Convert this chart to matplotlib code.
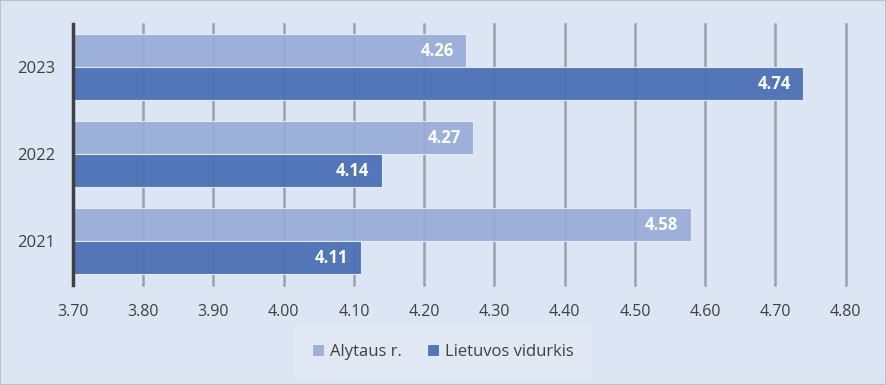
import numpy as np
import matplotlib
matplotlib.use("Agg")
import matplotlib.pyplot as plt
from matplotlib.patches import Rectangle

years = ["2021", "2022", "2023"]
alytaus = [4.58, 4.27, 4.26]
lietuvos = [4.11, 4.14, 4.74]
xticks = [3.70, 3.80, 3.90, 4.00, 4.10, 4.20, 4.30, 4.40, 4.50, 4.60, 4.70, 4.80]

plt.rcParams["font.family"] = ["Open Sans", "DejaVu Sans"]

BG = "#dce5f3"
LIGHT = "#98acd8"
DARK = "#4c72b5"

fig = plt.figure(figsize=(8.86, 3.85), dpi=100, facecolor=BG)
fig.patches.append(Rectangle((0, 0), 1, 1, transform=fig.transFigure,
                             fill=False, edgecolor="#c0c0c0", lw=1.5))
ax = fig.add_axes([0.0824, 0.26, 0.872, 0.678])
ax.set_facecolor(BG)

y = np.arange(len(years))
h = 0.38
left = 3.70
ax.barh(y + h / 2, np.array(alytaus) - left, h, left=left, color=LIGHT,
        edgecolor="#e8eef8", lw=0.8, alpha=0.93, label="Alytaus r.", zorder=2)
ax.barh(y - h / 2, np.array(lietuvos) - left, h, left=left, color=DARK,
        edgecolor="#e8eef8", lw=0.8, alpha=0.96, label="Lietuvos vidurkis", zorder=2)

for yi, v in zip(y + h / 2, alytaus):
    ax.text(v - 0.018, yi, f"{v:.2f}", ha="right", va="center", color="white",
            fontsize=12, fontweight="bold", zorder=4)
for yi, v in zip(y - h / 2, lietuvos):
    ax.text(v - 0.018, yi, f"{v:.2f}", ha="right", va="center", color="white",
            fontsize=12, fontweight="bold", zorder=4)

ax.set_xlim(3.70, 4.80)
ax.set_ylim(-0.5, 2.5)
ax.set_xticks(xticks)
ax.set_xticklabels([f"{t:.2f}" for t in xticks], fontsize=11.5, color="#404040")
ax.set_yticks(y)
ax.set_yticklabels(years, fontsize=12, color="#404040")
ax.tick_params(axis="x", length=0, pad=14)
ax.tick_params(axis="y", length=0, pad=13)
ax.grid(axis="x", color="#9ba1ab", lw=1.8, zorder=1)
for gl in ax.get_xgridlines():
    gl.set_clip_on(False)
ax.set_axisbelow(True)
for s in ["top", "right", "bottom"]:
    ax.spines[s].set_visible(False)
ax.spines["left"].set_color("#404040")
ax.spines["left"].set_linewidth(2.5)
ax.spines["left"].set_zorder(5)

leg = fig.legend(loc="center", bbox_to_anchor=(0.500, 0.086), ncol=2,
                 frameon=True, fontsize=12, handlelength=0.7, handleheight=0.7,
                 handletextpad=0.4, columnspacing=1.5, borderpad=0.7)
leg.get_frame().set_facecolor("#e3e9f4")
leg.get_frame().set_edgecolor("none")
leg.get_frame().set_boxstyle("square", pad=0.4)
for t in leg.get_texts():
    t.set_color("#404040")

fig.savefig("out.png", dpi=100, facecolor=BG)
